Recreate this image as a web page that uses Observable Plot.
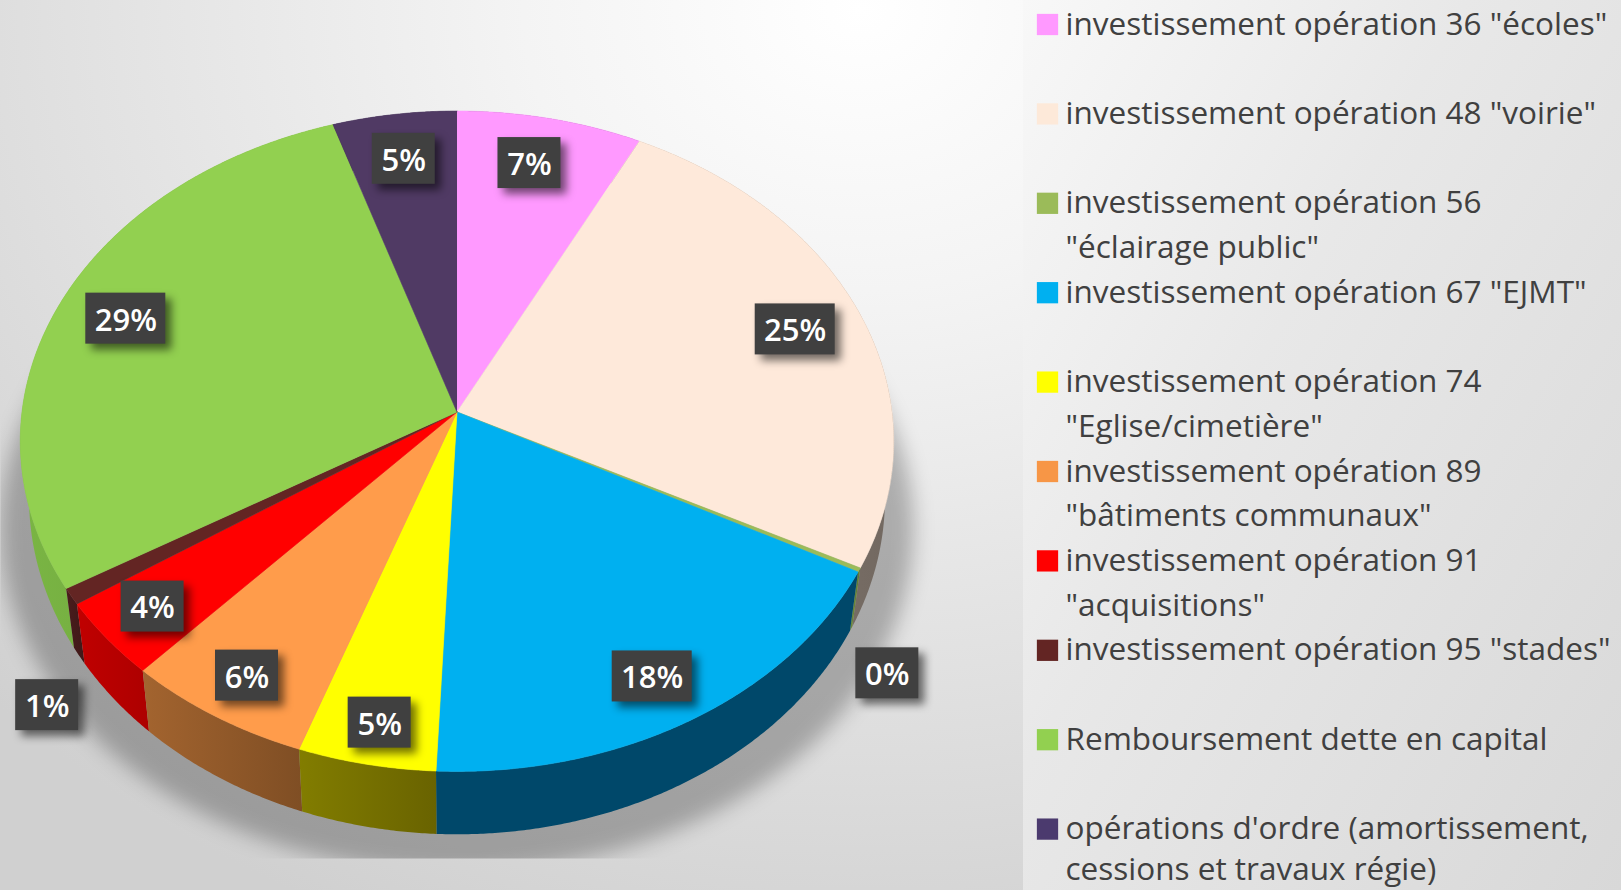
<!DOCTYPE html>
<html lang="fr">
<head>
<meta charset="utf-8">
<script src="https://cdn.jsdelivr.net/npm/d3@7"></script>
<script src="https://cdn.jsdelivr.net/npm/@observablehq/plot@0.6"></script>
<style>
html,body{margin:0;padding:0;width:1621px;height:890px;overflow:hidden}
body{position:relative;background:radial-gradient(ellipse 1200px 1000px at 860px 10px,#ffffff 0%,#f4f4f4 28%,#e0e0e0 68%,#d0d0d0 100%)}
#panel{position:absolute;left:1023px;top:0;width:598px;height:890px;background:linear-gradient(120deg,#f8f8f8 0%,#e8e8e8 40%,#d8d8d8 100%)}
#chart{position:absolute;left:0;top:0}
svg{display:block;background:transparent}
</style>
</head>
<body>
<div id="panel"></div>
<div id="chart"></div>
<script>
const categories = [
  'investissement opération 36 "écoles"',
  'investissement opération 48 "voirie"',
  'investissement opération 56 "éclairage public"',
  'investissement opération 67 "EJMT"',
  'investissement opération 74 "Eglise/cimetière"',
  'investissement opération 89 "bâtiments communaux"',
  'investissement opération 91 "acquisitions"',
  'investissement opération 95 "stades"',
  'Remboursement dette en capital',
  "opérations d'ordre (amortissement, cessions et travaux régie)"
];
const values = [7.47, 25.08, 0.2, 17.95, 4.7, 6.4, 3.8, 0.8, 28.6, 5.0];
const percentLabels = ["7%", "25%", "0%", "18%", "5%", "6%", "4%", "1%", "29%", "5%"];
const legendLines = [
  ['investissement opération 36 "écoles"'],
  ['investissement opération 48 "voirie"'],
  ['investissement opération 56', '"éclairage public"'],
  ['investissement opération 67 "EJMT"'],
  ['investissement opération 74', '"Eglise/cimetière"'],
  ['investissement opération 89', '"bâtiments communaux"'],
  ['investissement opération 91', '"acquisitions"'],
  ['investissement opération 95 "stades"'],
  ['Remboursement dette en capital'],
  ["opérations d'ordre (amortissement,", 'cessions et travaux régie)']
];
const legendRows = [0, 2, 4, 5, 6, 8, 9, 10, 11, 12, 13, 14, 16, 18, 18.92];
const legendFirstRow = [0, 2, 4, 6, 8, 10, 12, 14, 16, 18];
const faceColors = ["#FF99FF", "#FEE9DA", "#9BBB59", "#00B0F0", "#FFFF00", "#FF9C4B", "#FF0000", "#632523", "#92D050", "#503A64"];
const swatchColors = ["#FF99FF", "#FDE9D9", "#9BBB59", "#00B0F0", "#FFFF00", "#F79646", "#FF0000", "#632523", "#92D050", "#4B3A6E"];
const wallLight = ["#7f4c7f", "#8a8078", "#6c8a3c", "#00486a", "#827d00", "#a3642f", "#c00000", "#4a1c1c", "#7ab544", "#33263f"];
const wallDark  = ["#7f4c7f", "#726860", "#5c7a30", "#00486a", "#696300", "#7f4e24", "#ad0000", "#3f1818", "#679c38", "#33263f"];
const labelRadius = [0.834, 0.836, 1.187, 0.862, 0.89, 0.876, 0.872, 1.204, 0.834, 0.84];
const labelTurn = [-0.3, 0, 3.15, 0.2, -0.1, 0, 0.1, -3.09, 0, 0];

// Perspective of the disc: unit circle -> page units
const cx = 456.5, cy = 411.5, a = 435, b = 327.6, k = 0.0885;
const project = (pct, r = 1, sx = 1, sy = 1, off = 0) => {
  const t = pct / 100 * 2 * Math.PI;
  const u = r * Math.sin(t), v = r * Math.cos(t), w = 1 + k * v;
  return {x: cx + sx * a * u / w, y: cy - sy * b * v / w + off};
};
const arc = (p0, p1, ...rest) => {
  const n = Math.max(2, Math.ceil((p1 - p0) / 0.1));
  return d3.range(n + 1).map(i => project(p0 + (p1 - p0) * i / n, 1, ...rest));
};

const ends = d3.cumsum(values);
const slices = categories.map((cat, i) => ({cat, i, start: i ? ends[i - 1] : 0, end: ends[i]}));

const faces = slices.flatMap(s => [{x: cx, y: cy}, ...arc(s.start, s.end)].map(p => ({...p, cat: s.cat})));
const bottom = [0.98, 1.02, 55.7];
const walls = slices
  .slice()
  .sort((p, q) => Math.abs((q.start + q.end) / 2 - 50) - Math.abs((p.start + p.end) / 2 - 50))
  .map(s => ({s, pts: [...arc(s.start, s.end), ...arc(s.start, s.end, ...bottom).reverse()]}));
const shadowRing = arc(0, 100, 1.045, 1.04, 86);

const labels = slices.map((s, i) => {
  const p = project((s.start + s.end) / 2 + labelTurn[i], labelRadius[i]);
  const text = percentLabels[i];
  const w = text.length > 2 ? 80 : 63;
  return {...p, text, x1: p.x - w / 2, x2: p.x + w / 2, y1: p.y - 25.5, y2: p.y + 25.5};
});

const rowY = r => 24 + 44.7 * r;
const legendText = legendLines.flat().map((text, i) => ({text, y: rowY(legendRows[i])}));
const legendSwatches = categories.map((cat, i) => ({cat, y: rowY(legendFirstRow[i])}));

const withStyle = (filter, clip) => ({
  render(index, scales, channels, dimensions, context, next) {
    const g = next(index, scales, channels, dimensions, context);
    g.style.filter = filter;
    if (clip) g.setAttribute("clip-path", clip);
    return g;
  }
});

const defs = () => {
  const d = d3.create("svg:defs");
  d.append("clipPath").attr("id", "shadowClip").append("rect")
    .attr("width", 1621).attr("height", 858);
  categories.forEach((_, i) => {
    const g = d.append("linearGradient").attr("id", "wall" + i);
    g.append("stop").attr("offset", 0).attr("stop-color", wallLight[i]);
    g.append("stop").attr("offset", 1).attr("stop-color", wallDark[i]);
  });
  return d.node();
};

const chart = Plot.plot({
  width: 1621,
  height: 890,
  margin: 0,
  x: {domain: [0, 1621], range: [0, 1621], axis: null},
  y: {domain: [0, 890], range: [0, 890], axis: null},
  color: {domain: categories, range: faceColors},
  marks: [
    defs,
    Plot.line(shadowRing, {x: "x", y: "y", fill: "#000", fillOpacity: 0.26, stroke: "none",
      ...withStyle("blur(10px)", "url(#shadowClip)")}),
    ...walls.map(({s, pts}) => Plot.line(pts, {x: "x", y: "y", fill: `url(#wall${s.i})`, stroke: "none"})),
    Plot.line(faces, {x: "x", y: "y", z: "cat", fill: "cat", stroke: "cat", strokeWidth: 0.6}),
    Plot.rect(labels, {x1: d => d.x1 + 6, x2: d => d.x2 + 6, y1: d => d.y1 + 6, y2: d => d.y2 + 6,
      fill: "#000", fillOpacity: 0.55, ...withStyle("blur(4px)")}),
    Plot.rect(labels, {x1: "x1", x2: "x2", y1: "y1", y2: "y2", fill: "#404040"}),
    Plot.text(labels, {x: "x", y: d => d.y + 2, text: "text", fill: "#fff", fontSize: 31, fontWeight: 600,
      fontFamily: "Open Sans", textAnchor: "middle"}),
    Plot.dot(legendSwatches, {x: 1047, y: "y", symbol: "square", r: 12, fill: d => swatchColors[categories.indexOf(d.cat)], stroke: "none"}),
    Plot.text(legendText, {x: 1065, y: "y", text: "text", fill: "#404040", fontSize: 31.5,
      fontFamily: "Open Sans", textAnchor: "start"})
  ]
});
document.getElementById("chart").appendChild(chart);
</script>
</body>
</html>
